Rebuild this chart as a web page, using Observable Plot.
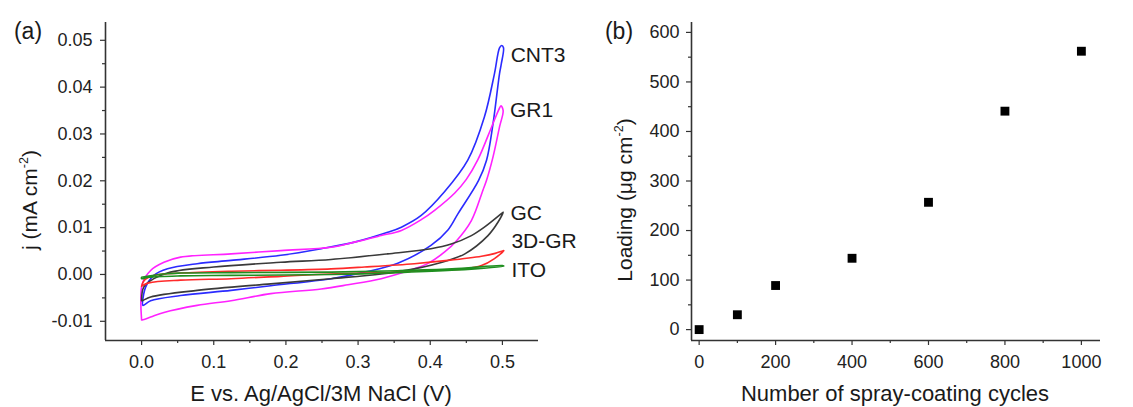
<!DOCTYPE html>
<html>
<head>
<meta charset="utf-8">
<script src="https://cdn.jsdelivr.net/npm/d3@7"></script>
<script src="https://cdn.jsdelivr.net/npm/@observablehq/plot@0.6"></script>
<style>
  html, body { margin: 0; padding: 0; background: #fff; }
  #wrap { position: relative; width: 1133px; height: 407px; overflow: hidden; background: #fff;
          font-family: "Liberation Sans", Arial, sans-serif; color: #1a1a1a; }
  .panel { position: absolute; top: 0; }
  .t { position: absolute; white-space: nowrap; line-height: 1; }
  .c { transform: translate(-50%, -50%); }
  .r { transform: translate(-50%, -50%) rotate(-90deg); }
  sup { font-size: 0.6em; vertical-align: 0.7em; line-height: 0; }
</style>
</head>
<body>
<div id="wrap">
  <div id="pa" class="panel" style="left:0px"></div>
  <div id="pb" class="panel" style="left:566px"></div>
  <div class="t c" style="left:28px; top:31px; font-size:23px;">(a)</div>
  <div class="t c" style="left:619px; top:31px; font-size:23px;">(b)</div>
  <div class="t r" style="left:29px; top:200px; font-size:21px;">j (mA cm<sup>-2</sup>)</div>
  <div class="t c" style="left:321px; top:394px; font-size:22px;">E vs. Ag/AgCl/3M NaCl (V)</div>
  <div class="t r" style="left:624px; top:200px; font-size:21px;">Loading (&#956;g cm<sup>-2</sup>)</div>
  <div class="t c" style="left:895px; top:394px; font-size:22px;">Number of spray-coating cycles</div>
</div>
<script>
// ---------- Panel (a): cyclic voltammograms, [E (V), j (mA cm-2)] ----------
const cnt3Forward = [[0.001,-0.0063],[0.0056,-0.0027],[0.017,-0.0002],[0.036,0.0012],[0.077,0.0023],[0.124,0.003],[0.193,0.0041],[0.249,0.0055],[0.295,0.0069],[0.341,0.009],[0.36,0.0101],[0.3875,0.0126],[0.42,0.0177],[0.452,0.0244],[0.475,0.0336],[0.489,0.0429],[0.496,0.0484],[0.499,0.0489]];
const cnt3Reverse = [[0.5015,0.0484],[0.4985,0.045],[0.496,0.0429],[0.487,0.0322],[0.478,0.0244],[0.467,0.0201],[0.4385,0.013],[0.4245,0.0095],[0.401,0.0062],[0.355,0.0024],[0.309,0.0005],[0.2625,-0.0009],[0.179,-0.0024],[0.124,-0.0034],[0.054,-0.0045],[0.0125,-0.0056],[0.002,-0.0066],[0.001,-0.0063]];

const gr1Forward = [[0.0,-0.0097],[0.001,-0.002],[0.0125,0.00085],[0.031,0.0026],[0.054,0.0037],[0.124,0.0044],[0.193,0.0051],[0.2625,0.0058],[0.295,0.0069],[0.332,0.0083],[0.36,0.0094],[0.3875,0.0117],[0.406,0.0137],[0.434,0.0174],[0.45,0.0203],[0.466,0.0245],[0.485,0.0315],[0.495,0.0352],[0.498,0.036]];
const gr1Reverse = [[0.501,0.035],[0.496,0.0315],[0.487,0.0251],[0.478,0.0201],[0.473,0.018],[0.457,0.0115],[0.4365,0.0072],[0.42,0.0048],[0.395,0.0022],[0.378,0.0012],[0.332,-0.0009],[0.286,-0.0022],[0.249,-0.0031],[0.179,-0.0041],[0.124,-0.0056],[0.077,-0.0066],[0.031,-0.0081],[0.0125,-0.0091],[0.001,-0.0097],[0.0,-0.0097]];

const gcForward = [[0.0,-0.0056],[0.003,-0.0027],[0.017,-0.0009],[0.04,0.0005],[0.1,0.0016],[0.193,0.0026],[0.2625,0.0032],[0.341,0.0044],[0.401,0.0055],[0.429,0.0065],[0.457,0.0083],[0.475,0.0101],[0.4986,0.013]];
const gcReverse = [[0.501,0.0133],[0.494,0.0112],[0.48,0.0083],[0.448,0.0044],[0.4245,0.003],[0.378,0.0012],[0.332,0.0001],[0.2625,-0.0009],[0.179,-0.002],[0.077,-0.0034],[0.0125,-0.0048],[0.001,-0.0056],[0.0,-0.0056]];

const gr3dForward = [[0.0,-0.0025],[0.004,-0.0012],[0.017,-0.0002],[0.054,0.0003],[0.124,0.0007],[0.193,0.0009],[0.2625,0.0012],[0.309,0.0016],[0.378,0.0023],[0.4245,0.003],[0.471,0.0039],[0.49,0.0045],[0.5,0.005]];
const gr3dReverse = [[0.502,0.0051],[0.489,0.0034],[0.471,0.0019],[0.448,0.0012],[0.401,0.0009],[0.355,0.0005],[0.2625,0.0001],[0.193,-0.0004],[0.124,-0.0009],[0.054,-0.0012],[0.01,-0.0018],[0.0,-0.0025]];

const itoForward = [[0.0,-0.0006],[0.03,0.0001],[0.054,0.0003],[0.124,0.0004],[0.2625,0.0005],[0.355,0.0008],[0.43,0.0012],[0.5,0.0019]];
const itoReverse = [[0.502,0.0018],[0.43,0.0009],[0.355,0.0004],[0.2625,0.0],[0.124,-0.0002],[0.054,-0.0003],[0.01,-0.0006],[0.0,-0.0009],[0.0,-0.0006]];

const curveNames = ["CNT3", "GR1", "GC", "3D-GR", "ITO"];
const curveColors = ["#2b2bff", "#ff22ff", "#3a3a3a", "#ff2a2a", "#1f8f1f"];
const curveLabelDy = [10, 4, 0, -10, 5];

const aMajorX = [0, 0.1, 0.2, 0.3, 0.4, 0.5];
const aMinorX = [0.05, 0.15, 0.25, 0.35, 0.45];
const aMajorY = [-0.01, 0, 0.01, 0.02, 0.03, 0.04, 0.05];
const aMinorY = [-0.005, 0.005, 0.015, 0.025, 0.035, 0.045];
const aDomainX = [-0.05, 0.55];
const aDomainY = [-0.0141, 0.0538];

// ---------- Panel (b): loading vs spray-coating cycles ----------
const cycles = [0, 100, 200, 400, 600, 800, 1000];
const loading = [0, 30, 89, 144, 257, 441, 562];

const bMajorX = [0, 200, 400, 600, 800, 1000];
const bMinorX = [100, 300, 500, 700, 900];
const bMajorY = [0, 100, 200, 300, 400, 500, 600];
const bMinorY = [50, 150, 250, 350, 450, 550];
const bDomainX = [-20, 1050];
const bDomainY = [-22, 620];

// ---------- build ----------
const loops = [
  [cnt3Forward, cnt3Reverse],
  [gr1Forward, gr1Reverse],
  [gcForward, gcReverse],
  [gr3dForward, gr3dReverse],
  [itoForward, itoReverse]
];

const axisColor = "#333";
const baseStyle = {fontFamily: "'Liberation Sans', Arial, sans-serif", fontSize: "18px", color: "#222", background: "transparent", overflow: "visible"};

const aMarks = [];
loops.forEach(([fwd, rev], i) => {
  const rows = fwd.concat(rev).map(([E, j]) => ({E, j}));
  aMarks.push(Plot.line(rows, {x: "E", y: "j", stroke: curveColors[i], strokeWidth: 1.6, curve: "catmull-rom"}));
  const peak = fwd.reduce((a, b) => (b[1] > a[1] ? b : a));
  aMarks.push(Plot.text([{E: peak[0], j: peak[1], name: curveNames[i]}], {
    x: "E", y: "j", text: "name", textAnchor: "start", dx: 9, dy: curveLabelDy[i],
    fontSize: 21, fill: "#1a1a1a"
  }));
});

const plotA = Plot.plot({
  width: 566, height: 407,
  marginLeft: 105, marginRight: 28, marginTop: 22, marginBottom: 67,
  style: baseStyle,
  x: {domain: aDomainX, axis: null},
  y: {domain: aDomainY, axis: null},
  marks: [
    Plot.axisY(aMinorY, {tickSize: 3, tickFormat: () => "", label: null, stroke: axisColor, strokeWidth: 1.2}),
    Plot.axisY(aMajorY, {tickSize: 5, tickPadding: 8, tickFormat: d => d.toFixed(2), label: null, stroke: axisColor, strokeWidth: 1.2}),
    Plot.axisX(aMinorX, {tickSize: 3, tickFormat: () => "", label: null, stroke: axisColor, strokeWidth: 1.2}),
    Plot.axisX(aMajorX, {tickSize: 5, tickPadding: 10, tickFormat: d => d.toFixed(1), label: null, stroke: axisColor, strokeWidth: 1.2}),
    ...aMarks,
    Plot.ruleX([aDomainX[0]], {stroke: axisColor, strokeWidth: 1.6}),
    Plot.ruleY([aDomainY[0]], {stroke: axisColor, strokeWidth: 1.6})
  ]
});
document.getElementById("pa").append(plotA);

const bRows = cycles.map((c, i) => ({c, l: loading[i]}));
const plotB = Plot.plot({
  width: 567, height: 407,
  marginLeft: 125, marginRight: 33, marginTop: 22, marginBottom: 67,
  style: baseStyle,
  x: {domain: bDomainX, axis: null},
  y: {domain: bDomainY, axis: null},
  marks: [
    Plot.axisY(bMinorY, {tickSize: 3, tickFormat: () => "", label: null, stroke: axisColor, strokeWidth: 1.2}),
    Plot.axisY(bMajorY, {tickSize: 5, tickPadding: 7, tickFormat: d => String(d), label: null, stroke: axisColor, strokeWidth: 1.2}),
    Plot.axisX(bMinorX, {tickSize: 3, tickFormat: () => "", label: null, stroke: axisColor, strokeWidth: 1.2}),
    Plot.axisX(bMajorX, {tickSize: 5, tickPadding: 10, tickFormat: d => String(d), label: null, stroke: axisColor, strokeWidth: 1.2}),
    Plot.dot(bRows, {x: "c", y: "l", symbol: "square", r: 5, fill: "#000", stroke: "none"}),
    Plot.ruleX([bDomainX[0]], {stroke: axisColor, strokeWidth: 1.6}),
    Plot.ruleY([bDomainY[0]], {stroke: axisColor, strokeWidth: 1.6})
  ]
});
document.getElementById("pb").append(plotB);
</script>
</body>
</html>
